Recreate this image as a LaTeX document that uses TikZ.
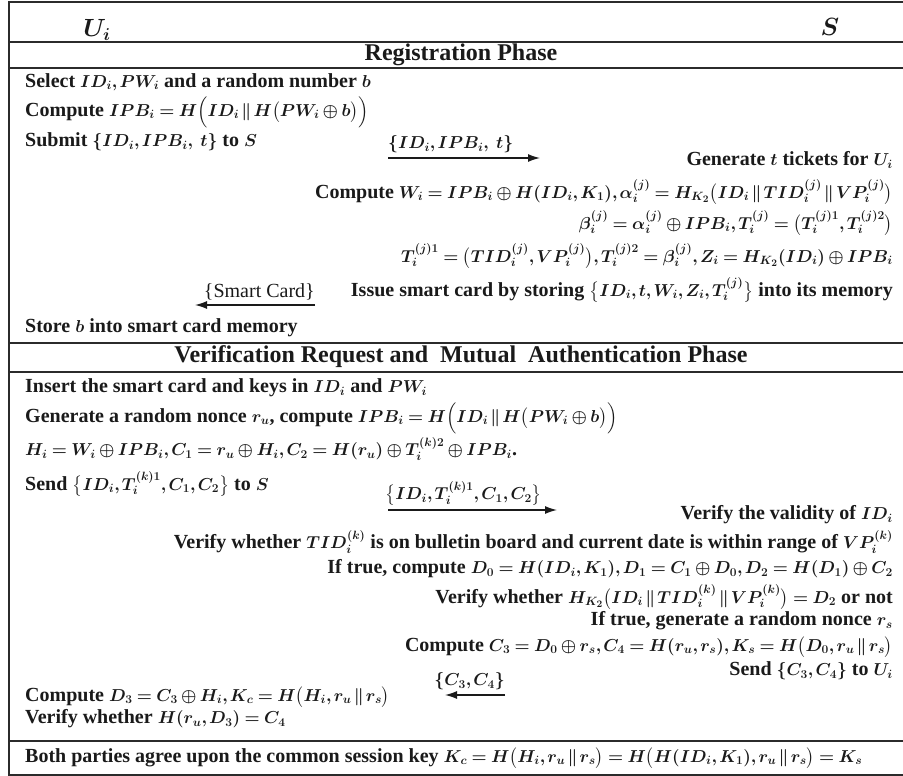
\documentclass[tikz,border=0pt]{standalone}
\usepackage{amsmath}
\usepackage{fontspec}
\setmainfont{Liberation Serif}
\usepackage{tikz}
\usetikzlibrary{positioning,arrows.meta}
\DeclareMathSizes{20}{19}{13.2}{10}
\thickmuskip=4mu plus 2mu\relax
\medmuskip=3mu plus 1mu\relax
\thinmuskip=2mu\relax
\definecolor{PKInk}{HTML}{1A1A1A}
\definecolor{PKRule}{HTML}{2B2B2B}
\tikzset{
  pktext/.style={
    inner sep=0pt,
    text=PKInk,
    font=\fontsize{20}{24}\selectfont\bfseries\boldmath
  },
  pkleft/.style={pktext,anchor=west},
  pkright/.style={pktext,anchor=east},
  pklabel/.style={inner sep=0pt,text=PKInk,font=\fontsize{20}{24}\selectfont},
  pkphase/.style={inner sep=0pt,text=PKInk,font=\fontsize{24}{26}\selectfont\bfseries},
  pkparty/.style={inner sep=0pt,text=PKInk,font=\fontsize{23}{26}\selectfont\bfseries\boldmath},
  pkrule/.style={draw=PKRule,line width=1.5pt},
  pkmsg/.style={-{Latex[length=12pt,width=8pt]},line width=1.3pt,draw=PKInk},
}

\begin{document}
\begin{tikzpicture}[x=1pt,y=-1pt]
  \useasboundingbox (0,0) rectangle (903,776);
  \draw[pkrule] (903,2) -- (9,2) -- (9,775) -- (903,775);
  \foreach \ypos in {42,68,343,372,741}
    \draw[pkrule] (9,\ypos) -- (903,\ypos);

  \node[pkparty] (user) at (97,30) {$U_i$};
  \node[pkparty] (server) at (830,27) {$S$};

  \node[pkphase] (regphase) at (461,55) {Registration Phase};
  \node[pkleft] (select) at (25,82) {Select $ID_i, PW_i$ and a random number $b$};
  \node[pkleft] (ipb) at (25,112)
    {Compute $IPB_i = H\Bigl(ID_i \,\|\, H\bigl(PW_i \oplus b\bigr)\Bigr)$};
  \node[pkleft] (submit) at (25,142) {Submit $\{ID_i, IPB_i,\ t\}$ to $S$};
  \coordinate (regfrom) at (388,158);
  \coordinate (regto) at (540,158);
  \draw[pkmsg] (regfrom) -- (regto);
  \node[pktext,above right=5pt and 0pt of regfrom] (reglbl) {$\{ID_i, IPB_i,\ t\}$};
  \node[pkright] (tickets) at (893,160) {Generate $t$ tickets for $U_i$};
  \node[pkright] (wi) at (893,192)
    {Compute $W_i = IPB_i \oplus H(ID_i, K_1), \alpha_i^{(j)} = H_{K_2}\bigl(ID_i \,\|\, TID_i^{(j)} \,\|\, VP_i^{(j)}\bigr)$};
  \node[pkright] (beta) at (893,223)
    {$\beta_i^{(j)} = \alpha_i^{(j)} \oplus IPB_i, T_i^{(j)} = \bigl(T_i^{(j)1}, T_i^{(j)2}\bigr)$};
  \node[pkright] (tone) at (893,256)
    {$T_i^{(j)1} = \bigl(TID_i^{(j)}, VP_i^{(j)}\bigr), T_i^{(j)2} = \beta_i^{(j)}, Z_i = H_{K_2}(ID_i) \oplus IPB_i$};
  \node[pkright] (issue) at (893,290)
    {Issue smart card by storing $\bigl\{ID_i, t, W_i, Z_i, T_i^{(j)}\bigr\}$ into its memory};
  \coordinate (cardfrom) at (315,305);
  \coordinate (cardto) at (195,305);
  \draw[pkmsg] (cardfrom) -- (cardto);
  \node[pklabel,above left=5pt and 0pt of cardfrom] (cardlbl) {\{Smart Card\}};
  \node[pkleft] (store) at (25,328) {Store $b$ into smart card memory};

  \node[pkphase] (authphase) at (461,357) {Verification Request and\ \ Mutual\ \ Authentication Phase};
  \node[pkleft] (insert) at (25,388) {Insert the smart card and keys in $ID_i$ and $PW_i$};
  \node[pkleft] (nonce) at (25,418)
    {Generate a random nonce $r_u$, compute $IPB_i = H\Bigl(ID_i \,\|\, H\bigl(PW_i \oplus b\bigr)\Bigr)$};
  \node[pkleft] (hi) at (25,449)
    {$H_i = W_i \oplus IPB_i, C_1 = r_u \oplus H_i, C_2 = H(r_u) \oplus T_i^{(k)2} \oplus IPB_i$.};
  \node[pkleft] (send) at (25,484) {Send $\bigl\{ID_i, T_i^{(k)1}, C_1, C_2\bigr\}$ to $S$};
  \coordinate (reqfrom) at (388,510);
  \coordinate (reqto) at (557,510);
  \draw[pkmsg] (reqfrom) -- (reqto);
  \node[pktext,above right=4pt and -3pt of reqfrom] (reqlbl) {$\bigl\{ID_i, T_i^{(k)1}, C_1, C_2\bigr\}$};
  \node[pkright] (valid) at (893,515) {Verify the validity of $ID_i$};
  \node[pkright] (bulletin) at (893,542)
    {Verify whether $TID_i^{(k)}$ is on bulletin board and current date is within range of $VP_i^{(k)}$};
  \node[pkright] (dzero) at (893,569)
    {If true, compute $D_0 = H(ID_i, K_1), D_1 = C_1 \oplus D_0, D_2 = H(D_1) \oplus C_2$};
  \node[pkright] (hktwo) at (893,597)
    {Verify whether $H_{K_2}\bigl(ID_i \,\|\, TID_i^{(k)} \,\|\, VP_i^{(k)}\bigr) = D_2$ or not};
  \node[pkright] (rs) at (893,621) {If true, generate a random nonce $r_s$};
  \node[pkright] (cthree) at (893,647)
    {Compute $C_3 = D_0 \oplus r_s, C_4 = H(r_u, r_s), K_s = H\bigl(D_0, r_u \,\|\, r_s\bigr)$};
  \node[pkright] (reply) at (893,671) {Send $\{C_3, C_4\}$ to $U_i$};
  \coordinate (keyfrom) at (505,695);
  \coordinate (keyto) at (445,695);
  \draw[pkmsg] (keyfrom) -- (keyto);
  \node[pktext,above left=5pt and 0pt of keyfrom] (keylbl) {$\{C_3, C_4\}$};
  \node[pkleft] (dthree) at (25,697)
    {Compute $D_3 = C_3 \oplus H_i, K_c = H\bigl(H_i, r_u \,\|\, r_s\bigr)$};
  \node[pkleft] (check) at (25,719) {Verify whether $H(r_u, D_3) = C_4$};
  \node[pkleft] (agree) at (25,758)
    {Both parties agree upon the common session key $K_c = H\bigl(H_i, r_u \,\|\, r_s\bigr) = H\bigl(H(ID_i, K_1), r_u \,\|\, r_s\bigr) = K_s$};
\end{tikzpicture}
\end{document}
